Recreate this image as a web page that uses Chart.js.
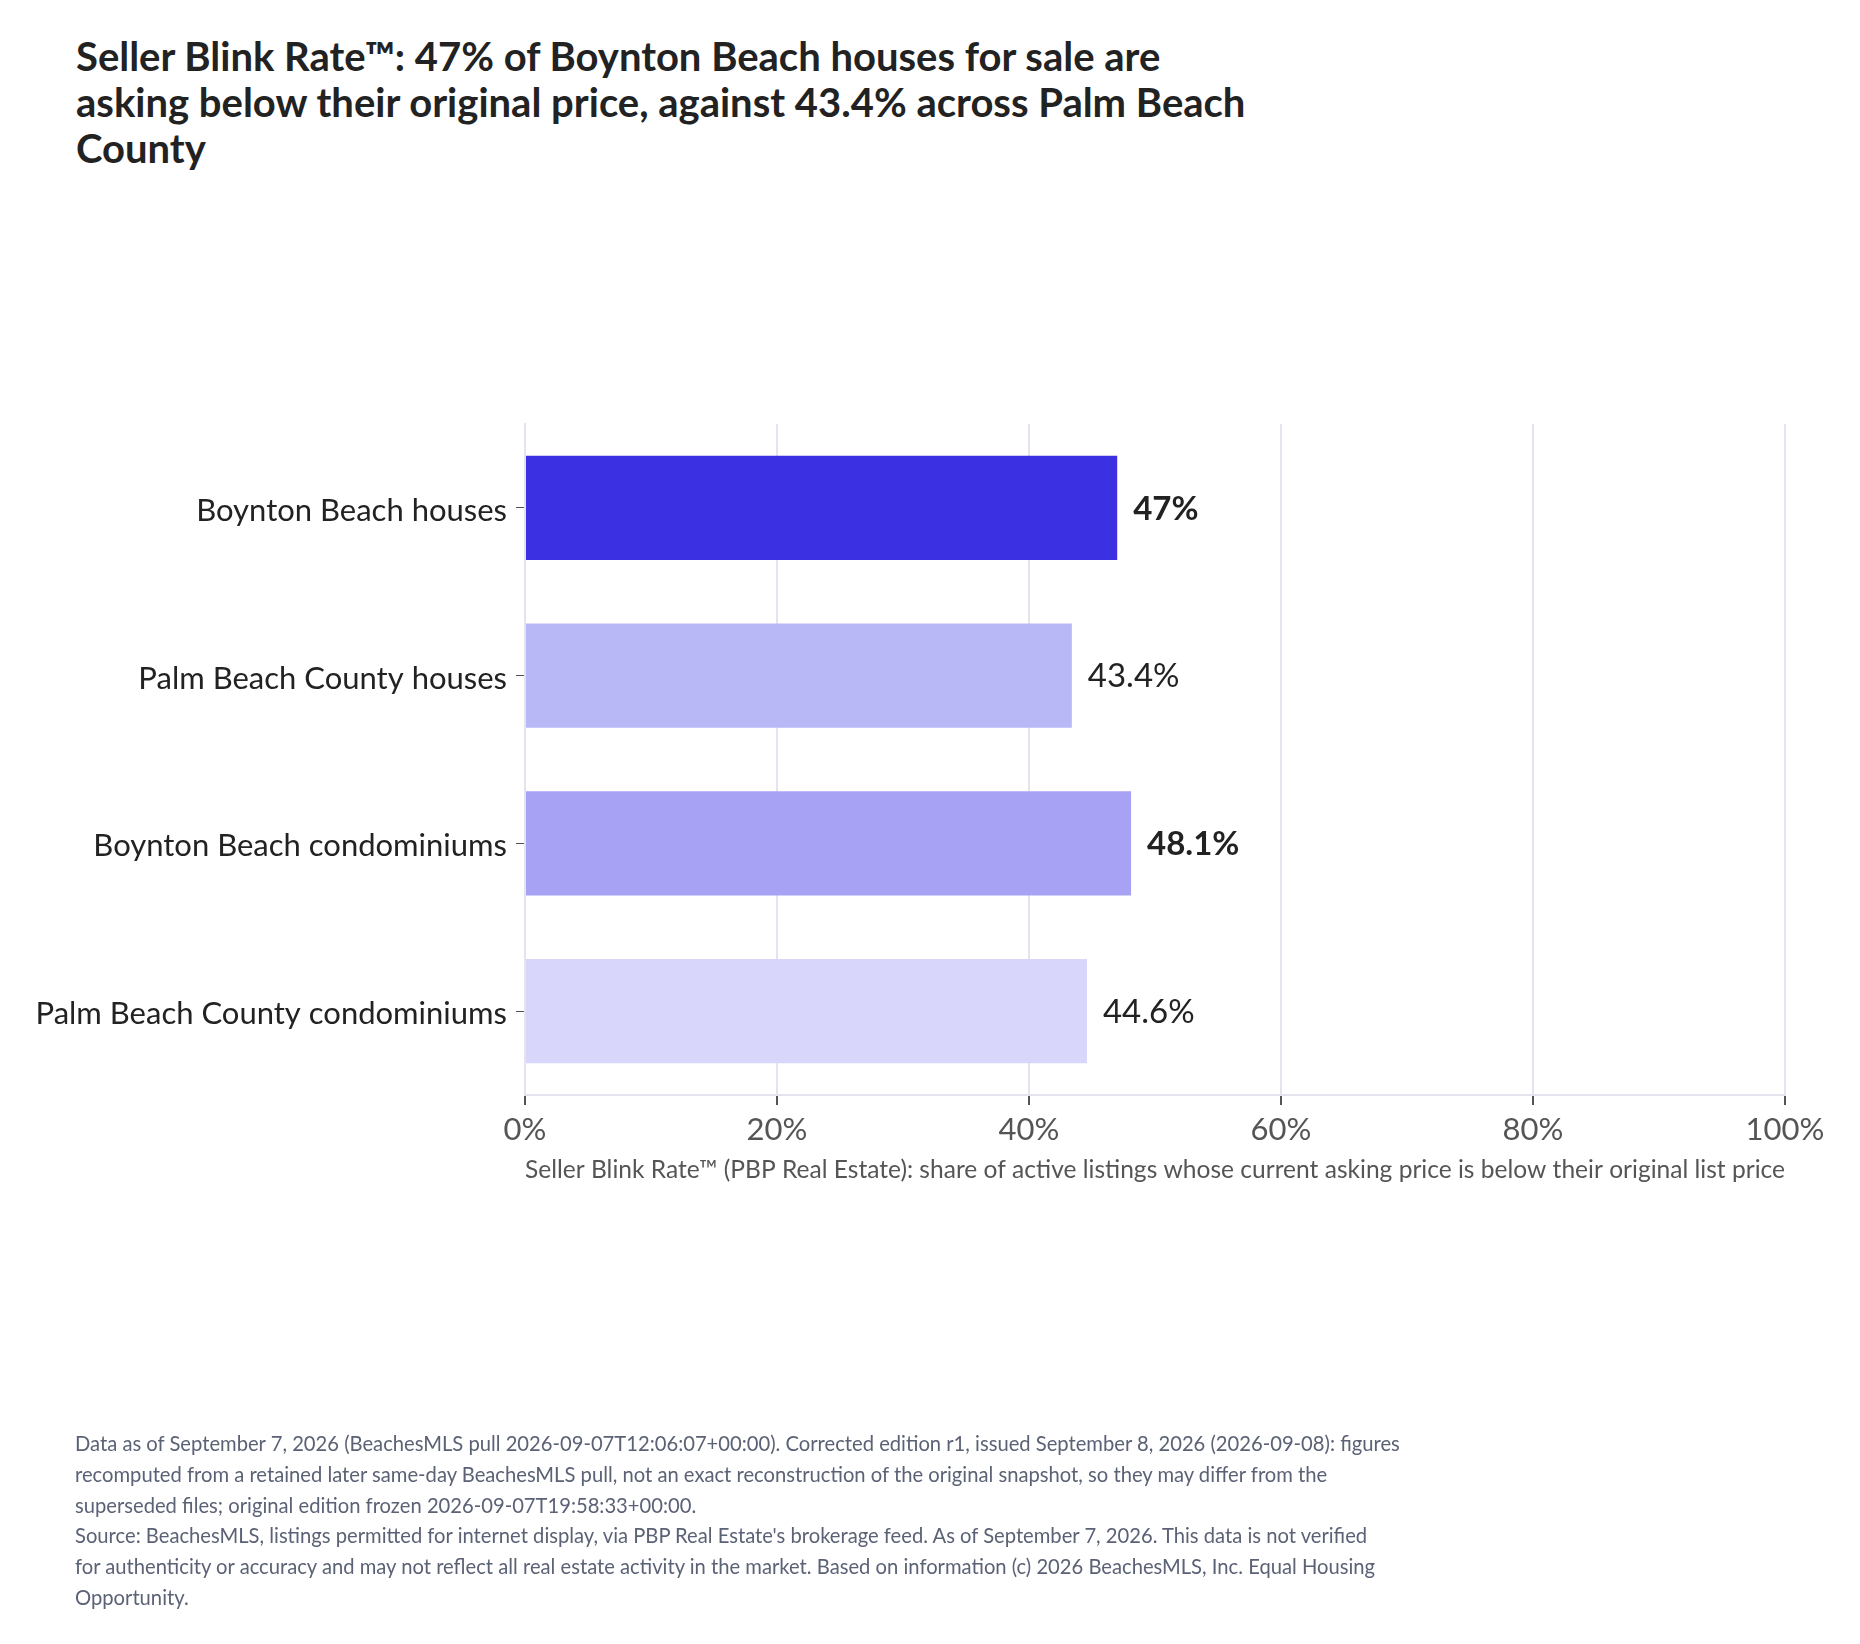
<!DOCTYPE html>
<html>
<head>
<meta charset="utf-8">
<script src="https://cdn.jsdelivr.net/npm/chart.js@4.4.1/dist/chart.umd.min.js"></script>
<style>
  html, body { margin: 0; padding: 0; background: #fff; }
  body { width: 1860px; height: 1644px; position: relative; overflow: hidden; font-family: Lato, sans-serif; }
  #title {
    position: absolute; left: 76px; top: 33px;
    font-size: 40px; font-weight: bold; line-height: 46px; color: #222;
    white-space: nowrap;
  }
  #notes {
    position: absolute; left: 75px; top: 1428px;
    font-size: 20.2px; line-height: 30.8px; color: #5b6275;
    white-space: nowrap;
  }
  #chart { position: absolute; left: 0; top: 0; }
</style>
</head>
<body>
<div id="title">Seller Blink Rate™: 47% of Boynton Beach houses for sale are<br>asking below their original price, against 43.4% across Palm Beach<br>County</div>
<canvas id="chart" width="1860" height="1644"></canvas>
<div id="notes">Data as of September 7, 2026 (BeachesMLS pull 2026-09-07T12:06:07+00:00). Corrected edition r1, issued September 8, 2026 (2026-09-08): figures<br>recomputed from a retained later same-day BeachesMLS pull, not an exact reconstruction of the original snapshot, so they may differ from the<br>superseded files; original edition frozen 2026-09-07T19:58:33+00:00.<br>Source: BeachesMLS, listings permitted for internet display, via PBP Real Estate's brokerage feed. As of September 7, 2026. This data is not verified<br>for authenticity or accuracy and may not reflect all real estate activity in the market. Based on information (c) 2026 BeachesMLS, Inc. Equal Housing<br>Opportunity.</div>
<script>
// chart data
const categories = [
  'Boynton Beach houses',
  'Palm Beach County houses',
  'Boynton Beach condominiums',
  'Palm Beach County condominiums'
];
const blinkRates = [47, 43.4, 48.1, 44.6];
const rateLabels = ['47%', '43.4%', '48.1%', '44.6%'];
const xTickValues = [0, 20, 40, 60, 80, 100];
const axisTitle = 'Seller Blink Rate™ (PBP Real Estate): share of active listings whose current asking price is below their original list price';

const barColors = ['#3b31e3', '#b9b8f6', '#a7a2f4', '#d8d6fa'];
const gridColor = '#e4e4ef';

// draws the value next to each bar, bold for Boynton Beach rows
const valueLabels = {
  id: 'valueLabels',
  afterDatasetsDraw(chart) {
    const ctx = chart.ctx;
    const meta = chart.getDatasetMeta(0);
    ctx.save();
    ctx.fillStyle = '#222';
    ctx.textAlign = 'left';
    ctx.textBaseline = 'middle';
    meta.data.forEach((bar, i) => {
      const bold = categories[i].startsWith('Boynton');
      ctx.font = (bold ? 'bold ' : '') + '33px Lato';
      ctx.fillText(rateLabels[i], bar.x + 16, bar.y + 1);
    });
    ctx.restore();
  }
};

function draw() {
  Chart.defaults.font.family = 'Lato';
  const ctx = document.getElementById('chart').getContext('2d');
  new Chart(ctx, {
    type: 'bar',
    data: {
      labels: categories,
      datasets: [{
        data: blinkRates,
        backgroundColor: barColors,
        borderWidth: 0,
        categoryPercentage: 0.62,
        barPercentage: 1
      }]
    },
    options: {
      indexAxis: 'y',
      responsive: false,
      animation: false,
      devicePixelRatio: 1,
      layout: { padding: { top: 424, left: 0, right: 75, bottom: 449 } },
      plugins: {
        legend: { display: false },
        tooltip: { enabled: false }
      },
      scales: {
        x: {
          min: 0,
          max: 100,
          afterBuildTicks: (scale) => {
            scale.ticks = xTickValues.map(v => ({ value: v }));
          },
          afterFit: (scale) => { scale.height = 100; },
          ticks: {
            callback: (v) => v + '%',
            font: { size: 31 },
            color: '#555',
            padding: 6,
            maxRotation: 0
          },
          grid: { color: gridColor, lineWidth: 2, tickColor: '#555', tickLength: 10 },
          border: { color: gridColor, width: 2 },
          title: {
            display: true,
            text: axisTitle,
            font: { size: 25.2 },
            color: '#555',
            padding: { top: 2, bottom: 10 }
          }
        },
        y: {
          afterFit: (scale) => { scale.width = 525; },
          ticks: {
            font: { size: 31 },
            color: '#222',
            padding: 9,
            labelOffset: 3
          },
          grid: { drawOnChartArea: false, offset: false, tickColor: '#555', tickLength: 9 },
          border: { color: gridColor, width: 2 }
        }
      }
    },
    plugins: [valueLabels]
  });
}

if (document.fonts && document.fonts.load) {
  Promise.all([
    document.fonts.load('31px Lato'),
    document.fonts.load('bold 33px Lato')
  ]).then(draw, draw);
} else {
  draw();
}
</script>
</body>
</html>
